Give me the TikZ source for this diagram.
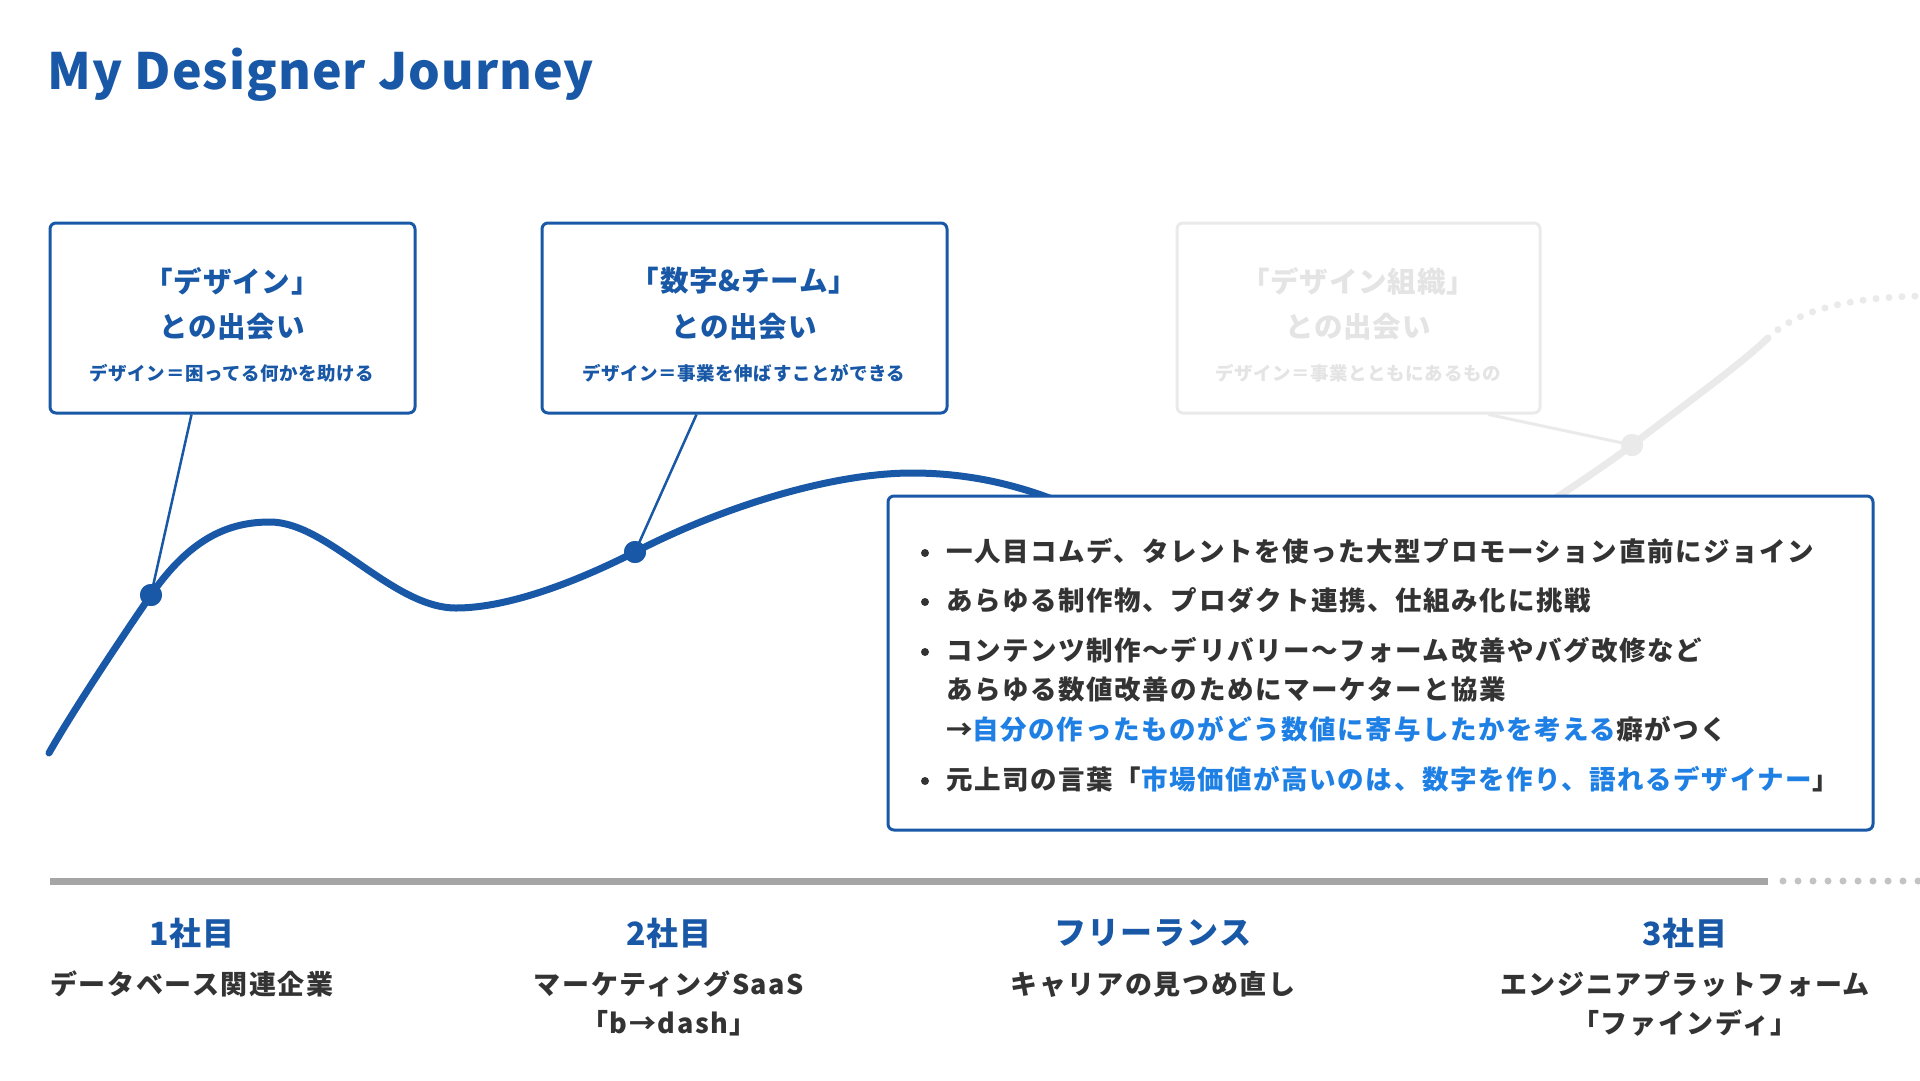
\documentclass[tikz,border=0pt]{standalone}
\usepackage{fontspec}
\usetikzlibrary{calc}
\setmainfont{Noto Sans CJK JP}
\newfontfamily\spfont{Noto Sans CJK JP}[LetterSpace=6]
\newfontfamily\hdfont{Noto Sans CJK JP}[LetterSpace=3]
\newfontfamily\titlefont{Noto Sans CJK JP}[LetterSpace=2]
\definecolor{jblue}{RGB}{24,88,166}
\definecolor{hblue}{RGB}{30,128,228}
\definecolor{jgray}{RGB}{51,51,51}
\definecolor{tline}{RGB}{165,165,165}
\definecolor{tdot}{RGB}{195,195,195}
\definecolor{faded}{RGB}{234,234,234}
\definecolor{fadetext}{RGB}{228,228,228}
\tikzset{
  card/.style={draw=jblue, line width=3pt, rounded corners=6pt, fill=white, inner sep=0pt},
  fadecard/.style={draw=faded, line width=3pt, rounded corners=6pt, fill=white, inner sep=0pt},
  bighead/.style={text=jblue, font=\hdfont\bfseries\fontsize{28.5}{32}\selectfont, inner sep=0pt},
  smallhead/.style={text=jblue, font=\hdfont\bfseries\fontsize{18.5}{22}\selectfont, inner sep=0pt},
  fadehead/.style={text=fadetext, font=\hdfont\bfseries\fontsize{28.5}{32}\selectfont, inner sep=0pt},
  fadesmall/.style={text=fadetext, font=\hdfont\bfseries\fontsize{18.5}{22}\selectfont, inner sep=0pt},
  conn/.style={draw=jblue, line width=2.5pt},
  jdot/.style={circle, fill=jblue, minimum size=22pt, inner sep=0pt},
  fdot/.style={circle, fill=faded, minimum size=22pt, inner sep=0pt},
  bline/.style={text=jgray, font=\spfont\bfseries\fontsize{26.5}{30}\selectfont, inner sep=0pt, anchor=west},
  bullet/.style={circle, fill=jgray, minimum size=8pt, inner sep=0pt},
  period/.style={text=jblue, font=\hdfont\bfseries\fontsize{32}{36}\selectfont, inner sep=0pt},
  company/.style={text=jgray, font=\spfont\bfseries\fontsize{27}{31}\selectfont, inner sep=0pt},
}
\begin{document}
\begin{tikzpicture}[x=1pt,y=-1pt]
\useasboundingbox (0,0) rectangle (1920,1080);
\fill[white] (0,0) rectangle (1920,1080);

% title
\node[anchor=base west, inner sep=0pt, text=jblue, font=\titlefont\bfseries\fontsize{50}{58}\selectfont] (title) at (47,89) {My Designer Journey};

% timeline
\coordinate (tl0) at (50,881);
\coordinate (tl1) at (1768,881);
\coordinate (tl2) at (1783,881);
\coordinate (tl3) at (1920,881);
\draw[tline, line width=7pt] (tl0) -- (tl1);
\draw[tdot, line width=7pt, line cap=round, dash pattern=on 0pt off 15pt] (tl2) -- (tl3);

% faded future curve
\coordinate (g0) at (1480,548);
\coordinate (g1) at (1632,445);
\coordinate (g2) at (1768,338);
\coordinate (g3) at (1920,296);
\draw[faded, line width=7pt] (g0) .. controls (1540,508) and (1600,470) .. (g1)
   .. controls (1680,408) and (1740,365) .. (g2);
\draw[faded, line width=7pt, line cap=round, dash pattern=on 0pt off 13pt] (g2) .. controls (1790,317) and (1830,298) .. (g3);

% blue curve
\coordinate (p0) at (49,753);
\coordinate (p1) at (151,595);
\coordinate (p2) at (270,522);
\coordinate (p3) at (456,608);
\coordinate (p4) at (635,552);
\coordinate (p5) at (912,473);
\coordinate (p6) at (1100,520);
\draw[jblue, line width=7pt, line cap=round] (p0) .. controls (72,712) and (128,628) .. (p1)
  .. controls (191,537) and (230,522) .. (p2)
  .. controls (328,522) and (392,608) .. (p3)
  .. controls (510,608) and (580,580) .. (p4)
  .. controls (720,508) and (830,473) .. (p5)
  .. controls (980,473) and (1040,490) .. (p6);

% dots
\node[jdot] (d1) at (p1) {};
\node[jdot] (d2) at (p4) {};
\node[fdot] (d3) at (g1) {};

% cards
\node[card, minimum width=365pt, minimum height=190pt] (b1) at (232.5,318) {};
\node[card, minimum width=405pt, minimum height=190pt] (b2) at (744.5,318) {};
\node[fadecard, minimum width=363pt, minimum height=190pt] (b3) at (1358.5,318) {};

% connectors
\coordinate (c1) at ($(b1.south west)+(143,0)$);
\coordinate (c2) at ($(b2.south west)+(156,0)$);
\coordinate (c3) at ($(b3.south west)+(313,0)$);
\draw[conn] (c1) -- (d1.center);
\draw[conn] (c2) -- (d2.center);
\draw[faded, line width=3pt] (c3) -- (d3.center);
\node[jdot] at (d1) {};
\node[jdot] at (d2) {};
\node[fdot] at (d3) {};

% card texts
\node[bighead] (b1a) at (232,281) {「デザイン」};
\node[bighead] (b1b) at (232,327) {との出会い};
\node[smallhead] (b1c) at (232,373) {デザイン＝困ってる何かを助ける};
\node[bighead] (b2a) at (744,281) {「数字\textbf{\&}チーム」};
\node[bighead] (b2b) at (744,327) {との出会い};
\node[smallhead] (b2c) at (744,373) {デザイン＝事業を伸ばすことができる};
\node[fadehead] (b3a) at (1358,281) {「デザイン組織」};
\node[fadehead] (b3b) at (1358,327) {との出会い};
\node[fadesmall] (b3c) at (1358,373) {デザイン＝事業とともにあるもの};

% big box
\node[card, minimum width=985pt, minimum height=334pt] (big) at (1380.5,663) {};
\node[bullet] (u1) at (925,553) {};
\node[bullet] (u2) at (925,602) {};
\node[bullet] (u3) at (925,652) {};
\node[bullet] (u4) at (925,781) {};
\node[bline] (l1) at (946,551) {一人目コムデ、タレントを使った大型プロモーション直前にジョイン};
\node[bline] (l2) at (946,600) {あらゆる制作物、プロダクト連携、仕組み化に挑戦};
\node[bline] (l3) at (946,650) {コンテンツ制作〜デリバリー〜フォーム改善やバグ改修など};
\node[bline] (l4) at (946,689) {あらゆる数値改善のためにマーケターと協業};
\node[bline] (l5) at (946,729) {→\textcolor{hblue}{自分の作ったものがどう数値に寄与したかを考える}癖がつく};
\node[bline] (l6) at (946,779) {元上司の言葉「\textcolor{hblue}{市場価値が高いのは、数字を作り、語れるデザイナー}」};

% periods
\node[period] (q1) at (192,933) {1社目};
\node[company] (q1a) at (192,984) {データベース関連企業};
\node[period] (q2) at (669,933) {2社目};
\node[company] (q2a) at (669,984) {マーケティングSaaS};
\node[company] (q2b) at (669,1023) {「b→dash」};
\node[period] (q3) at (1153,933) {フリーランス};
\node[company] (q3a) at (1153,984) {キャリアの見つめ直し};
\node[period] (q4) at (1685,933) {3社目};
\node[company] (q4a) at (1685,984) {エンジニアプラットフォーム};
\node[company] (q4b) at (1685,1023) {「ファインディ」};
\end{tikzpicture}
\end{document}
